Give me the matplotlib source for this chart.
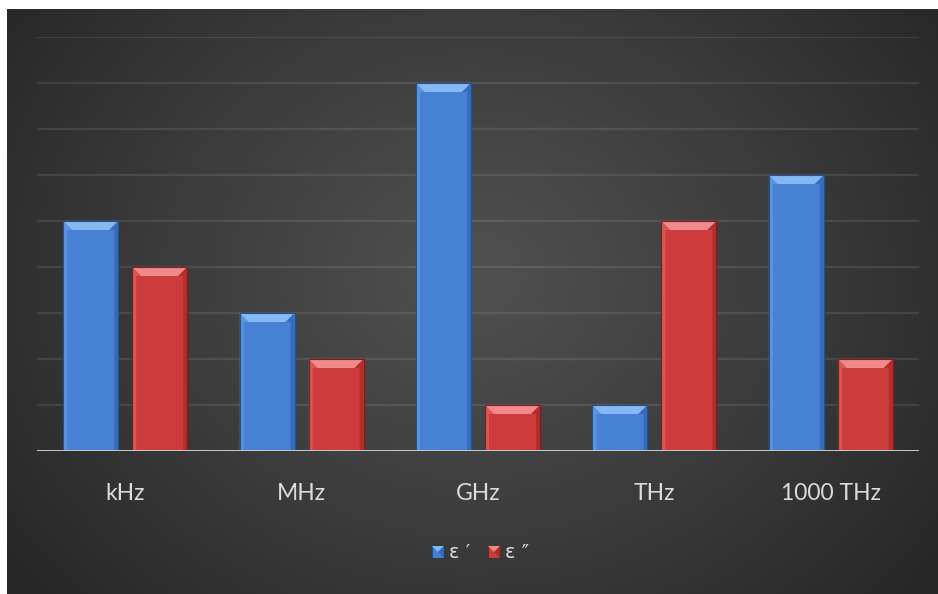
import numpy as np
import matplotlib.pyplot as plt
from matplotlib.patches import Polygon, Rectangle

categories = ["kHz", "MHz", "GHz", "THz", "1000 THz"]
eps_real = [5, 3, 8, 1, 6]
eps_imag = [4, 2, 1, 5, 2]
series_names = ["ε ′", "ε ″"]

W, H = 938, 594
fig = plt.figure(figsize=(W / 100, H / 100), dpi=100, facecolor="white")

# dark radial background panel
bg = fig.add_axes([7 / W, 0, 1 - 7 / W, 1 - 9 / H])
yy, xx = np.mgrid[0:300, 0:470]
cx, cy = 0.5, 0.45
r = np.sqrt(((xx / 470) - cx) ** 2 * 1.0 + ((yy / 300) - cy) ** 2 * 0.55)
r = np.clip(r / 0.62, 0, 1)
inner, outer = 0x50 / 255, 0x27 / 255
shade = inner + (outer - inner) * r ** 1.1
img = np.dstack([shade, shade, shade])
bg.imshow(img, aspect="auto", extent=[0, 1, 0, 1], origin="upper")
bg.set_axis_off()

ax = fig.add_axes([37 / W, (H - 451) / H, (919 - 37) / W, (451 - 37) / H])
ax.patch.set_alpha(0)
ax.set_xlim(0, len(categories))
ax.set_ylim(0, 9)
for s in ax.spines.values():
    s.set_visible(False)
ax.set_xticks([])
ax.set_yticks([])

for g in range(1, 10):
    ax.axhline(g, color="white", alpha=0.09, lw=1.6, zorder=1)

px_x = 1 / (882 / 5)   # data units per pixel horizontally
px_y = 9 / 414         # data units per pixel vertically
bw = 55 * px_x
off = 34.5 * px_x
bev = 9


def bevel_bar(xc, h, face, light, dark, edge):
    x0, x1 = xc - bw / 2, xc + bw / 2
    bx, by = bev * px_x, min(bev * px_y, h / 2)
    ax.add_patch(Rectangle((x0, 0), bw, h, fc=face, ec=edge, lw=0.8, zorder=3))
    # top bevel
    ax.add_patch(Polygon([(x0, h), (x1, h), (x1 - bx, h - by), (x0 + bx, h - by)],
                         closed=True, fc=light, ec="none", zorder=4))
    # side bevels
    sx = 4 * px_x
    ax.add_patch(Polygon([(x0, h), (x0 + bx, h - by), (x0 + sx, h - by), (x0 + sx, 0), (x0, 0)],
                         closed=True, fc=light, ec="none", alpha=0.35, zorder=4))
    ax.add_patch(Polygon([(x1, h), (x1 - bx, h - by), (x1 - sx, h - by), (x1 - sx, 0), (x1, 0)],
                         closed=True, fc=dark, ec="none", alpha=0.6, zorder=4))
    ax.add_patch(Rectangle((x0, 0), bw, h, fc="none", ec=edge, lw=0.8, zorder=5))


blue = dict(face="#4681d4", light="#86b8f4", dark="#2d5fa6", edge="#23508f")
red = dict(face="#cc3c3c", light="#f08a8a", dark="#9c2626", edge="#7f1d1d")

for i in range(len(categories)):
    bevel_bar(i + 0.5 - off, eps_real[i], **blue)
    bevel_bar(i + 0.5 + off, eps_imag[i], **red)

ax.axhline(0, color="#c4c4c4", lw=2.2, zorder=6)

for i, c in enumerate(categories):
    ax.text(i + 0.5, -0.92, c, ha="center", va="center", fontsize=16.5,
            color="#dcdcdc", family="Lato")

# legend
ly = 552
for k, (name, st) in enumerate(zip(series_names, [blue, red])):
    lx = 432 + k * 56
    lax = fig.add_axes([lx / W, (H - ly - 6) / H, 12 / W, 12 / H])
    lax.set_xlim(0, 1)
    lax.set_ylim(0, 1)
    lax.set_axis_off()
    lax.add_patch(Rectangle((0, 0), 1, 1, fc=st["face"], ec=st["edge"], lw=0.8))
    lax.add_patch(Polygon([(0, 1), (1, 1), (0.5, 0.5)], fc=st["light"], ec="none"))
    lax.add_patch(Polygon([(1, 1), (1, 0), (0.5, 0.5)], fc=st["dark"], ec="none", alpha=0.7))
    fig.text((lx + 17) / W, (H - ly) / H, name, ha="left", va="center",
             fontsize=14, color="#dcdcdc", family="DejaVu Sans")

fig.savefig("out.png", dpi=100, facecolor="white")
